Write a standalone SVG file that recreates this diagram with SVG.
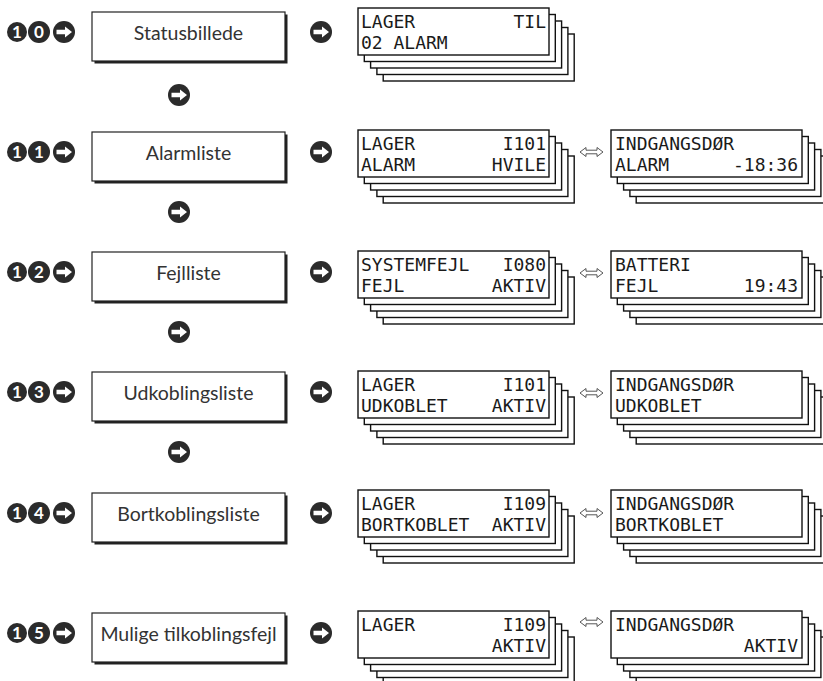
<svg xmlns="http://www.w3.org/2000/svg" xmlns:xlink="http://www.w3.org/1999/xlink" width="823" height="681" viewBox="0 0 823 681">
<style>
.bg{fill:#fff}
.box{fill:#fff;stroke:#222;stroke-width:1.2}
.shadow{fill:#222}
.lbl{font-family:Lato,"Open Sans","Liberation Sans",sans-serif;font-size:19.5px;fill:#333;text-anchor:middle}
.lcd{fill:#fff;stroke:#111;stroke-width:1.4}
.t{font-family:"DejaVu Sans Mono","Liberation Mono",monospace;font-size:18px;fill:#1a1a1a}
.r{text-anchor:end}
.dot{fill:#2b2b2b}
.num{font-family:Lato,"Open Sans","Liberation Sans",sans-serif;font-weight:bold;font-size:17px;fill:#fff;text-anchor:middle}
.dbl{fill:#fff;stroke:#444;stroke-width:0.9}
</style>
<defs>
<g id="arr">
<circle r="11" class="dot"/>
<polygon points="-7.5,-2.2 1,-2.2 1,-5.5 8,0 1,5.5 1,2.2 -7.5,2.2" fill="#fff"/>
</g>
<g id="stk">
<rect x="25.2" y="26" width="191" height="47" class="lcd"/>
<rect x="18.9" y="19.5" width="191" height="47" class="lcd"/>
<rect x="12.6" y="13" width="191" height="47" class="lcd"/>
<rect x="6.3" y="6.5" width="191" height="47" class="lcd"/>
<rect x="0" y="0" width="191" height="47" class="lcd"/>
</g>
<g id="box">
<rect x="2.5" y="2.5" width="193" height="49" class="shadow"/>
<rect x="0" y="0" width="193" height="49" class="box"/>
</g>
<path id="dbl" d="M0,0 L6,-4.5 L6,-1.8 L17,-1.8 L17,-4.5 L23,0 L17,4.5 L17,1.8 L6,1.8 L6,4.5 Z" class="dbl"/>
</defs>
<rect width="823" height="681" class="bg"/>

<g id="connectors">
<use href="#arr" x="321" y="32"/>
<use href="#arr" x="321" y="152"/>
<use href="#arr" x="321" y="272"/>
<use href="#arr" x="321" y="392"/>
<use href="#arr" x="321" y="513"/>
<use href="#arr" x="321" y="633"/>
<use href="#arr" x="179" y="95"/>
<use href="#arr" x="179" y="212"/>
<use href="#arr" x="179" y="332"/>
<use href="#arr" x="179" y="452"/>
<use href="#dbl" x="580" y="152"/>
<use href="#dbl" x="580" y="273"/>
<use href="#dbl" x="580" y="393"/>
<use href="#dbl" x="580" y="513"/>
<use href="#dbl" x="580" y="622"/>
</g>

<g id="bullet-10">
<circle cx="17" cy="32" r="10" class="dot"/><circle cx="39" cy="32" r="11" class="dot"/><use href="#arr" x="64" y="32"/>
<text x="17" y="38" class="num">1</text><text x="39" y="38" class="num">0</text>
</g>
<g id="bullet-11">
<circle cx="17" cy="152" r="10" class="dot"/><circle cx="39" cy="152" r="11" class="dot"/><use href="#arr" x="64" y="152"/>
<text x="17" y="158" class="num">1</text><text x="39" y="158" class="num">1</text>
</g>
<g id="bullet-12">
<circle cx="17" cy="272" r="10" class="dot"/><circle cx="39" cy="272" r="11" class="dot"/><use href="#arr" x="64" y="272"/>
<text x="17" y="278" class="num">1</text><text x="39" y="278" class="num">2</text>
</g>
<g id="bullet-13">
<circle cx="17" cy="392" r="10" class="dot"/><circle cx="39" cy="392" r="11" class="dot"/><use href="#arr" x="64" y="392"/>
<text x="17" y="398" class="num">1</text><text x="39" y="398" class="num">3</text>
</g>
<g id="bullet-14">
<circle cx="17" cy="513" r="10" class="dot"/><circle cx="39" cy="513" r="11" class="dot"/><use href="#arr" x="64" y="513"/>
<text x="17" y="519" class="num">1</text><text x="39" y="519" class="num">4</text>
</g>
<g id="bullet-15">
<circle cx="17" cy="633" r="10" class="dot"/><circle cx="39" cy="633" r="11" class="dot"/><use href="#arr" x="64" y="633"/>
<text x="17" y="639" class="num">1</text><text x="39" y="639" class="num">5</text>
</g>

<g id="node-statusbillede"><use href="#box" x="92" y="12"/><text x="188.5" y="40" class="lbl">Statusbillede</text></g>
<g id="node-alarmliste"><use href="#box" x="92" y="132"/><text x="188.5" y="160" class="lbl">Alarmliste</text></g>
<g id="node-fejlliste"><use href="#box" x="92" y="252"/><text x="188.5" y="280" class="lbl">Fejlliste</text></g>
<g id="node-udkoblingsliste"><use href="#box" x="92" y="372"/><text x="188.5" y="400" class="lbl">Udkoblingsliste</text></g>
<g id="node-bortkoblingsliste"><use href="#box" x="92" y="493"/><text x="188.5" y="521" class="lbl">Bortkoblingsliste</text></g>
<g id="node-mulige"><use href="#box" x="92" y="613"/><text x="188.5" y="641" class="lbl">Mulige tilkoblingsfejl</text></g>

<g id="disp-0">
<use href="#stk" x="358" y="8"/>
<text x="361" y="28" class="t">LAGER</text><text x="546" y="28" class="t r">TIL</text>
<text x="361" y="49" class="t">02 ALARM</text>
</g>
<g id="disp-1a">
<use href="#stk" x="358" y="130"/>
<text x="361" y="150" class="t">LAGER</text><text x="546" y="150" class="t r">I101</text>
<text x="361" y="171" class="t">ALARM</text><text x="546" y="171" class="t r">HVILE</text>
</g>
<g id="disp-1b">
<use href="#stk" x="611" y="130"/>
<text x="615" y="150" class="t">INDGANGSDØR</text>
<text x="615" y="171" class="t">ALARM</text><text x="798" y="171" class="t r">-18:36</text>
</g>
<g id="disp-2a">
<use href="#stk" x="358" y="251"/>
<text x="361" y="271" class="t">SYSTEMFEJL</text><text x="546" y="271" class="t r">I080</text>
<text x="361" y="292" class="t">FEJL</text><text x="546" y="292" class="t r">AKTIV</text>
</g>
<g id="disp-2b">
<use href="#stk" x="611" y="251"/>
<text x="615" y="271" class="t">BATTERI</text>
<text x="615" y="292" class="t">FEJL</text><text x="798" y="292" class="t r">19:43</text>
</g>
<g id="disp-3a">
<use href="#stk" x="358" y="371"/>
<text x="361" y="391" class="t">LAGER</text><text x="546" y="391" class="t r">I101</text>
<text x="361" y="412" class="t">UDKOBLET</text><text x="546" y="412" class="t r">AKTIV</text>
</g>
<g id="disp-3b">
<use href="#stk" x="611" y="371"/>
<text x="615" y="391" class="t">INDGANGSDØR</text>
<text x="615" y="412" class="t">UDKOBLET</text>
</g>
<g id="disp-4a">
<use href="#stk" x="358" y="490"/>
<text x="361" y="510" class="t">LAGER</text><text x="546" y="510" class="t r">I109</text>
<text x="361" y="531" class="t">BORTKOBLET</text><text x="546" y="531" class="t r">AKTIV</text>
</g>
<g id="disp-4b">
<use href="#stk" x="611" y="490"/>
<text x="615" y="510" class="t">INDGANGSDØR</text>
<text x="615" y="531" class="t">BORTKOBLET</text>
</g>
<g id="disp-5a">
<use href="#stk" x="358" y="611"/>
<text x="361" y="631" class="t">LAGER</text><text x="546" y="631" class="t r">I109</text>
<text x="546" y="652" class="t r">AKTIV</text>
</g>
<g id="disp-5b">
<use href="#stk" x="611" y="611"/>
<text x="615" y="631" class="t">INDGANGSDØR</text>
<text x="798" y="652" class="t r">AKTIV</text>
</g>
</svg>
